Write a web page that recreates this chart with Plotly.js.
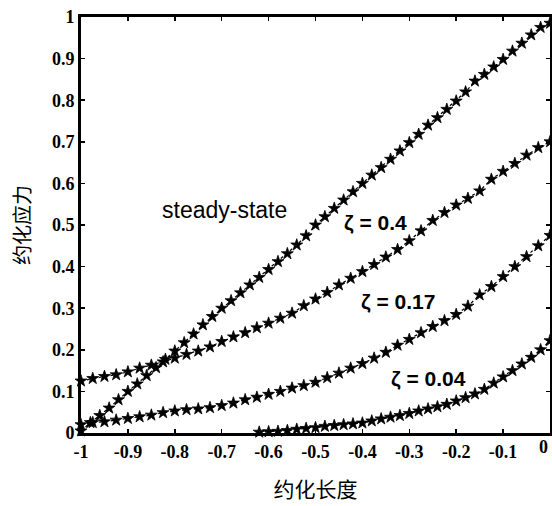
<!DOCTYPE html>
<html><head><meta charset="utf-8">
<script src="https://cdn.plot.ly/plotly-3.0.1.min.js"></script>
<style>body{margin:0;background:#fff}#c{width:552px;height:506px}</style>
</head><body><div id="c"></div>
<script>
const steadyX = [-1.00,-0.98,-0.96,-0.94,-0.92,-0.90,-0.88,-0.86,-0.84,-0.82,-0.80,-0.78,-0.76,-0.74,-0.72,-0.70,-0.68,-0.66,-0.64,-0.62,-0.60,-0.58,-0.56,-0.54,-0.52,-0.50,-0.48,-0.46,-0.44,-0.42,-0.40,-0.38,-0.36,-0.34,-0.32,-0.30,-0.28,-0.26,-0.24,-0.22,-0.20,-0.18,-0.16,-0.14,-0.12,-0.10,-0.08,-0.06,-0.04,-0.02,0.00];
const steadyY = [0.005,0.025,0.042,0.060,0.080,0.100,0.118,0.138,0.157,0.177,0.197,0.217,0.238,0.260,0.280,0.300,0.318,0.337,0.356,0.374,0.393,0.412,0.431,0.452,0.474,0.500,0.520,0.540,0.560,0.580,0.600,0.620,0.638,0.658,0.678,0.698,0.718,0.740,0.758,0.778,0.798,0.820,0.846,0.862,0.880,0.898,0.918,0.937,0.957,0.975,0.985];
const z40X = [-1.000,-0.975,-0.950,-0.925,-0.900,-0.875,-0.850,-0.825,-0.800,-0.775,-0.750,-0.725,-0.700,-0.675,-0.650,-0.625,-0.600,-0.575,-0.550,-0.525,-0.500,-0.475,-0.450,-0.425,-0.400,-0.375,-0.350,-0.325,-0.300,-0.275,-0.250,-0.225,-0.200,-0.175,-0.150,-0.125,-0.100,-0.075,-0.050,-0.025,0.000];
const z40Y = [0.125,0.131,0.136,0.140,0.147,0.156,0.163,0.171,0.180,0.189,0.197,0.207,0.220,0.231,0.241,0.253,0.264,0.276,0.288,0.306,0.322,0.338,0.356,0.372,0.388,0.405,0.423,0.441,0.462,0.486,0.511,0.530,0.548,0.564,0.582,0.610,0.629,0.648,0.668,0.686,0.700];
const z17X = z40X.slice();
const z17Y = [0.020,0.025,0.027,0.031,0.035,0.039,0.043,0.049,0.053,0.056,0.058,0.061,0.066,0.072,0.080,0.086,0.093,0.100,0.108,0.114,0.122,0.133,0.144,0.156,0.167,0.180,0.194,0.211,0.225,0.241,0.256,0.270,0.285,0.305,0.332,0.352,0.376,0.400,0.424,0.450,0.475];
const z04X = [-0.62,-0.60,-0.58,-0.56,-0.54,-0.52,-0.50,-0.48,-0.46,-0.44,-0.42,-0.40,-0.38,-0.36,-0.34,-0.32,-0.30,-0.28,-0.26,-0.24,-0.22,-0.20,-0.18,-0.16,-0.14,-0.12,-0.10,-0.08,-0.06,-0.04,-0.02,0.00];
const z04Y = [0.002,0.003,0.004,0.006,0.009,0.011,0.013,0.016,0.018,0.020,0.022,0.024,0.029,0.034,0.038,0.042,0.047,0.053,0.058,0.063,0.069,0.077,0.085,0.094,0.105,0.120,0.135,0.150,0.166,0.182,0.200,0.222];
const xTickVals = [-1,-0.9,-0.8,-0.7,-0.6,-0.5,-0.4,-0.3,-0.2,-0.1];
const xTickText = ['-1','-0.9','-0.8','-0.7','-0.6','-0.5','-0.4','-0.3','-0.2','-0.1'];
const xLastTick = '0';
const yTickVals = [0,0.1,0.2,0.3,0.4,0.5,0.6,0.7,0.8,0.9,1];
const yTickText = ['0','0.1','0.2','0.3','0.4','0.5','0.6','0.7','0.8','0.9','1'];
const labels = ['steady-state','ζ = 0.4','ζ = 0.17','ζ = 0.04'];
const labelX = [-0.693,-0.373,-0.324,-0.26];
const labelY = [0.536,0.505,0.315,0.132];

const mk = {symbol:'star', size:9, color:'#000', line:{width:0.8,color:'#000'}};
function tr(x,y){return {x:x,y:y,type:'scatter',mode:'lines+markers',marker:mk,line:{color:'#000',width:1.2,dash:'dot'},cliponaxis:false,showlegend:false,hoverinfo:'skip'};}
const data = [tr(steadyX,steadyY),tr(z40X,z40Y),tr(z17X,z17Y),tr(z04X,z04Y)];
const tickFont = {family:'Liberation Serif, DejaVu Serif, serif', size:18, color:'#000', weight:'bold'};
const ann = labels.map((t,i)=>({x:labelX[i], y:labelY[i], xref:'x', yref:'y', text:t, showarrow:false,
    font:{family:'Liberation Sans, Arial, sans-serif', size:i===0?23:21, color:'#000', weight:i===0?'normal':'bold'}}));
ann.push({x:1, y:0, xref:'paper', yref:'paper', xanchor:'right', yanchor:'top', yshift:-2, text:xLastTick, showarrow:false, font:tickFont});
const layout = {
  width:552, height:506,
  margin:{l:81,r:2,t:17,b:73},
  paper_bgcolor:'#fff', plot_bgcolor:'#fff',
  xaxis:{range:[-1,0], tickvals:xTickVals, ticktext:xTickText, ticks:'inside', ticklen:4, tickwidth:1.5, tickcolor:'#000',
    showline:true, linewidth:3, linecolor:'#000', mirror:'ticks', showgrid:false, zeroline:false, tickfont:tickFont,
    title:{text:'约化长度', font:{family:'Noto Sans CJK SC', size:21, color:'#000'}, standoff:22}},
  yaxis:{range:[0,1], tickvals:yTickVals, ticktext:yTickText, ticks:'inside', ticklen:4, tickwidth:1.5, tickcolor:'#000',
    showline:true, linewidth:3, linecolor:'#000', mirror:'ticks', showgrid:false, zeroline:false, tickfont:tickFont,
    title:{text:'约化应力', font:{family:'Noto Sans CJK SC', size:20, color:'#000'}, standoff:16}},
  annotations: ann
};
Plotly.newPlot('c', data, layout, {staticPlot:true});
</script></body></html>
